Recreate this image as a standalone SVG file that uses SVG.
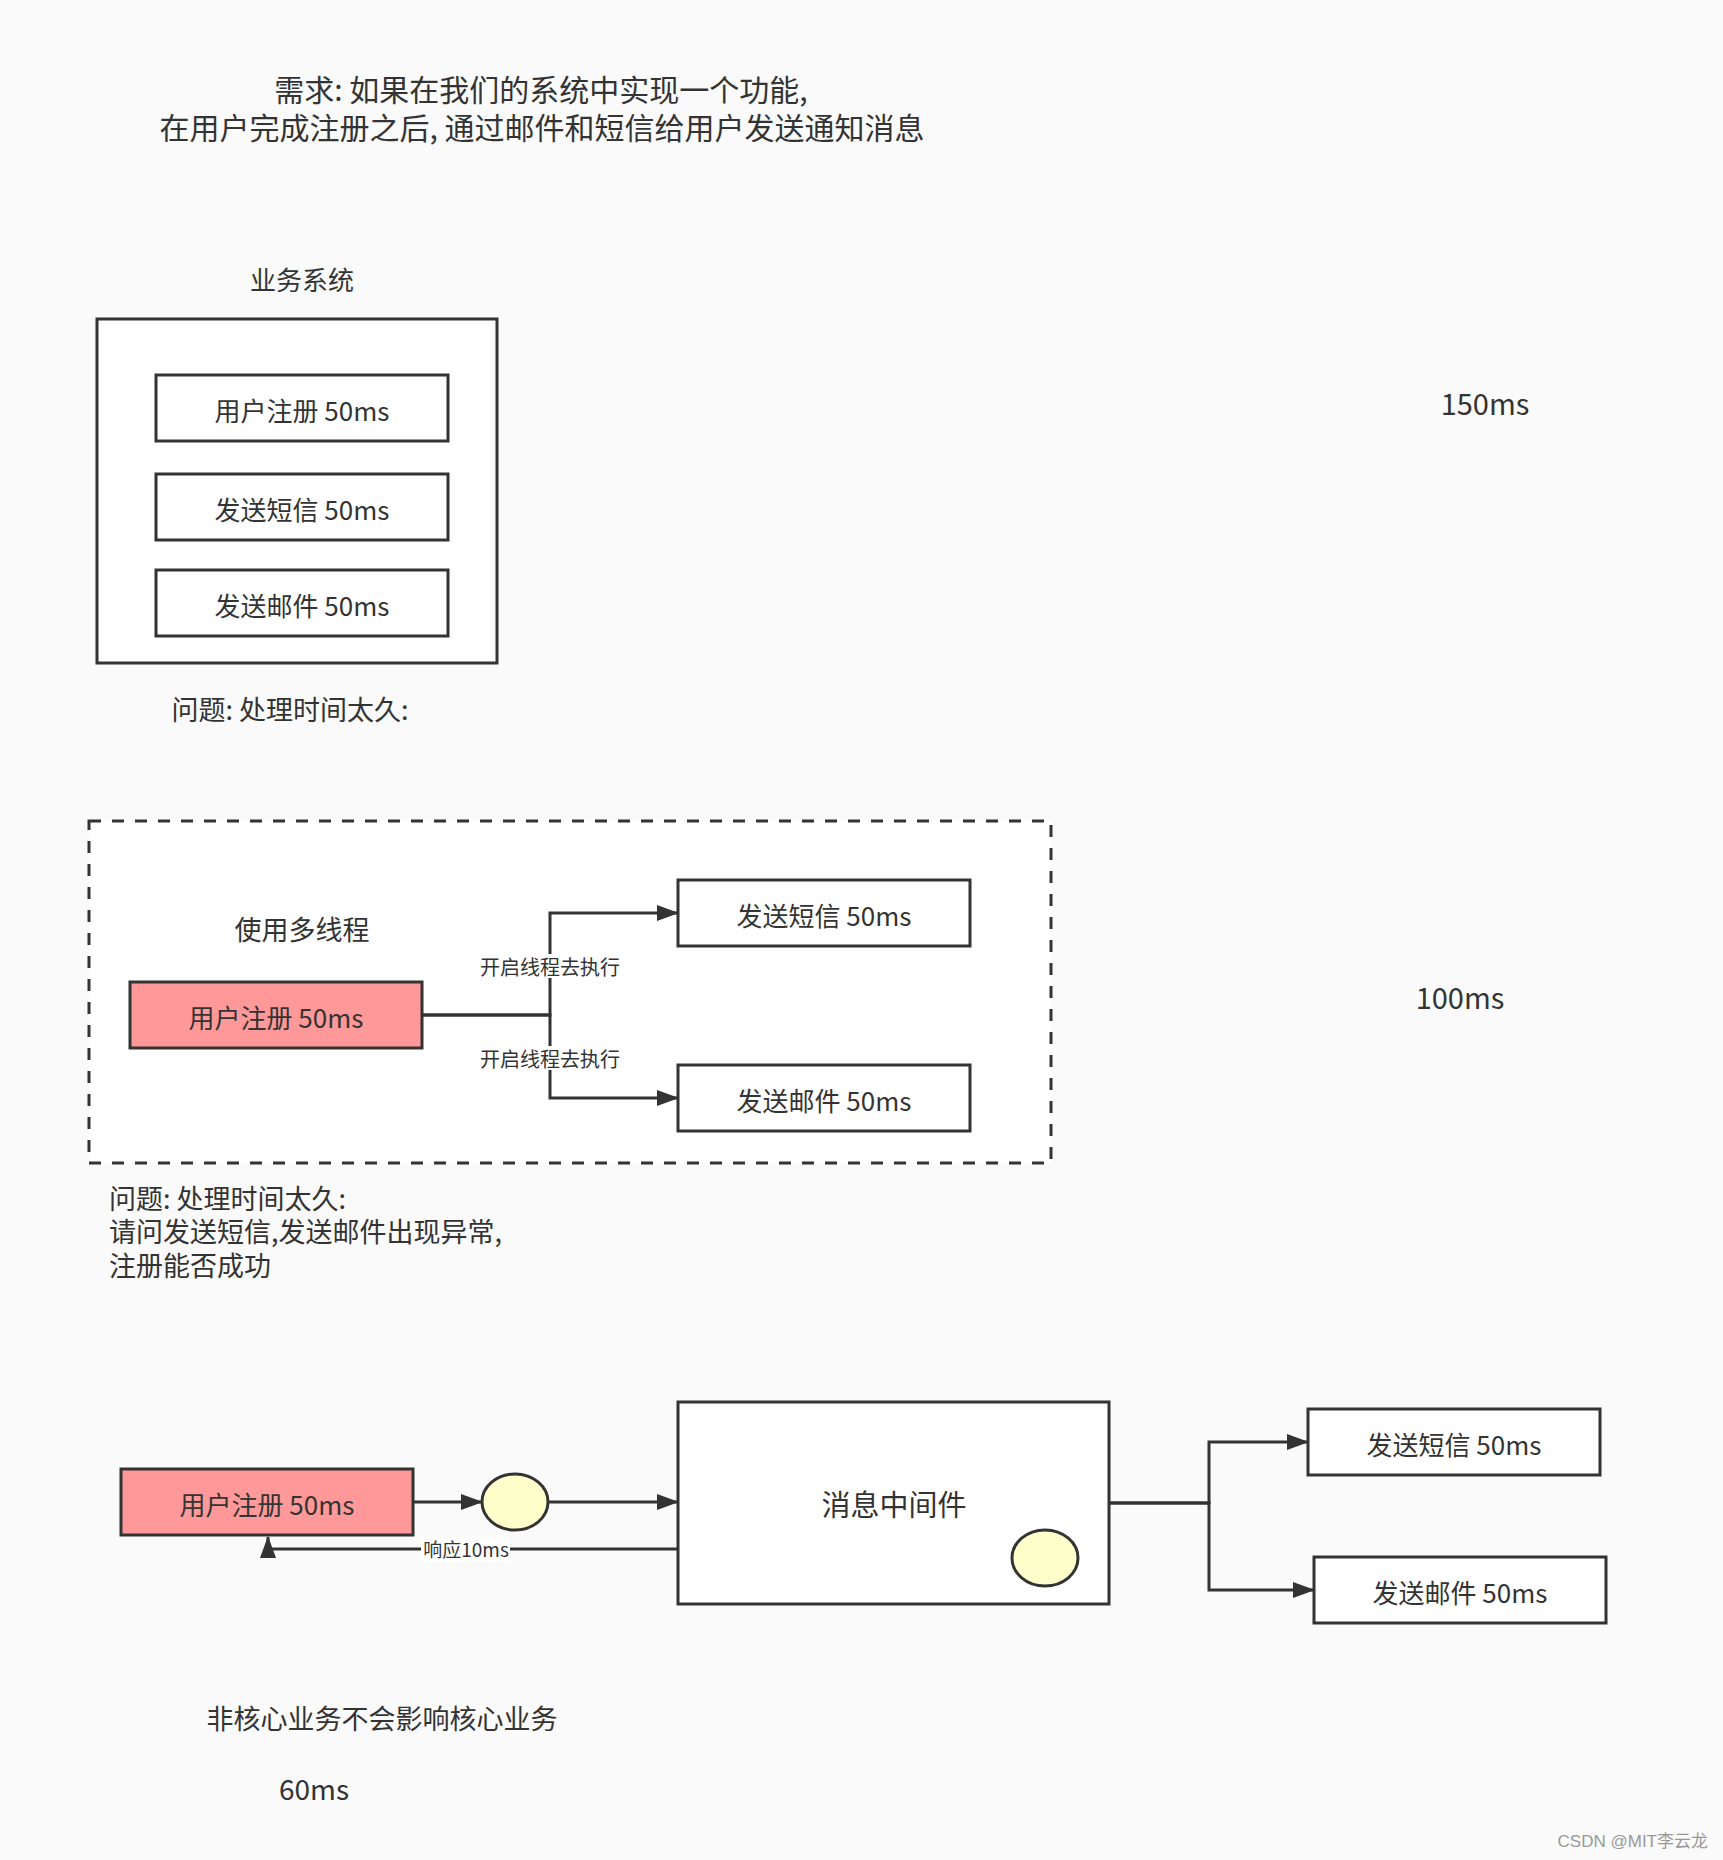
<svg xmlns="http://www.w3.org/2000/svg" width="1723" height="1860" viewBox="0 0 1723 1860">
<style>
text{font-family:"Noto Sans CJK SC","Noto Sans",sans-serif;fill:#333333}
.box{fill:#ffffff;stroke:#333333;stroke-width:3}
.pink{fill:#ff9999;stroke:#333333;stroke-width:3}
.ell{fill:#ffffcc;stroke:#333333;stroke-width:3}
.lbl{font-size:26px;text-anchor:middle}
.note{font-size:27px}
.edge{fill:none;stroke:#333333;stroke-width:3;marker-end:url(#arr)}
.elbl{font-size:20px;text-anchor:middle}
.bg{fill:#ffffff}
</style>
<defs>
<marker id="arr" markerUnits="userSpaceOnUse" markerWidth="22" markerHeight="16" refX="21" refY="8" orient="auto">
<path d="M0,0 L22,8 L0,16 Z" fill="#333333"/>
</marker>
</defs>
<rect width="1723" height="1860" fill="#fafafa"/>
<g id="title">
<text font-size="30" text-anchor="middle"><tspan x="541" y="101">需求: 如果在我们的系统中实现一个功能,</tspan><tspan x="542" y="139">在用户完成注册之后, 通过邮件和短信给用户发送通知消息</tspan></text>
</g>
<g id="sys-label"><text x="302" y="290" text-anchor="middle" style="font-size:26px">业务系统</text></g>
<g id="sys-box"><rect x="97" y="319" width="400" height="344" class="box"/></g>
<g id="sys-reg"><rect x="156" y="375" width="292" height="66" class="box"/><text x="302" y="421" class="lbl">用户注册 50ms</text></g>
<g id="sys-sms"><rect x="156" y="474" width="292" height="66" class="box"/><text x="302" y="520" class="lbl">发送短信 50ms</text></g>
<g id="sys-mail"><rect x="156" y="570" width="292" height="66" class="box"/><text x="302" y="616" class="lbl">发送邮件 50ms</text></g>
<g id="t150"><text x="1485" y="415" font-size="29" text-anchor="middle">150ms</text></g>
<g id="q1"><text x="290" y="720" class="note" text-anchor="middle">问题: 处理时间太久:</text></g>

<g id="mt-box"><rect x="89" y="821" width="962" height="342" fill="#ffffff" stroke="#333333" stroke-width="3" stroke-dasharray="12 11"/></g>
<g id="mt-label"><text x="302" y="940" class="note" text-anchor="middle">使用多线程</text></g>
<g id="mt-reg"><rect x="130" y="982" width="292" height="66" class="pink"/><text x="276" y="1028" class="lbl">用户注册 50ms</text></g>
<g id="mt-sms"><rect x="678" y="880" width="292" height="66" class="box"/><text x="824" y="926" class="lbl">发送短信 50ms</text></g>
<g id="mt-mail"><rect x="678" y="1065" width="292" height="66" class="box"/><text x="824" y="1111" class="lbl">发送邮件 50ms</text></g>
<g id="t100"><text x="1460" y="1009" font-size="29" text-anchor="middle">100ms</text></g>
<g id="q2">
<text class="note"><tspan x="109" y="1209">问题: 处理时间太久:</tspan><tspan x="109" y="1242">请问发送短信,发送邮件出现异常,</tspan><tspan x="109" y="1276">注册能否成功</tspan></text>
</g>

<g id="mq-reg"><rect x="121" y="1469" width="292" height="66" class="pink"/><text x="267" y="1515" class="lbl">用户注册 50ms</text></g>
<g id="msg1"><ellipse cx="515" cy="1502" rx="33" ry="28" class="ell"/></g>
<g id="mq"><rect x="678" y="1402" width="431" height="202" class="box"/><text x="894" y="1516" font-size="29" text-anchor="middle">消息中间件</text></g>
<g id="msg2"><ellipse cx="1045" cy="1558" rx="33" ry="28" class="ell"/></g>
<g id="mq-sms"><rect x="1308" y="1409" width="292" height="66" class="box"/><text x="1454" y="1455" class="lbl">发送短信 50ms</text></g>
<g id="mq-mail"><rect x="1314" y="1557" width="292" height="66" class="box"/><text x="1460" y="1603" class="lbl">发送邮件 50ms</text></g>
<g id="q3"><text x="382" y="1729" class="note" text-anchor="middle">非核心业务不会影响核心业务</text></g>
<g id="t60"><text x="314" y="1800" font-size="28" text-anchor="middle">60ms</text></g>

<g id="connectors">
<path class="edge" d="M422,1015 H550 V913 H678"/>
<path class="edge" d="M422,1015 H550 V1098 H678"/>
<rect x="480" y="954" width="140" height="24" class="bg"/>
<text x="550" y="975" class="elbl">开启线程去执行</text>
<rect x="480" y="1046" width="140" height="24" class="bg"/>
<text x="550" y="1067" class="elbl">开启线程去执行</text>
<path class="edge" d="M413,1502 H482"/>
<path class="edge" d="M548,1502 H678"/>
<path class="edge" d="M678,1549 H268 V1537"/>
<rect x="421" y="1537" width="89" height="25" class="bg"/>
<text x="466" y="1557" font-size="19" text-anchor="middle">响应10ms</text>
<path class="edge" d="M1109,1503 H1209 V1442 H1308"/>
<path class="edge" d="M1109,1503 H1209 V1590 H1314"/>
</g>
<g id="watermark"><text x="1708" y="1847" text-anchor="end" style="fill:#999999;font-size:17px;font-family:'Liberation Sans','Noto Sans CJK SC',sans-serif">CSDN @MIT李云龙</text></g>
</svg>
